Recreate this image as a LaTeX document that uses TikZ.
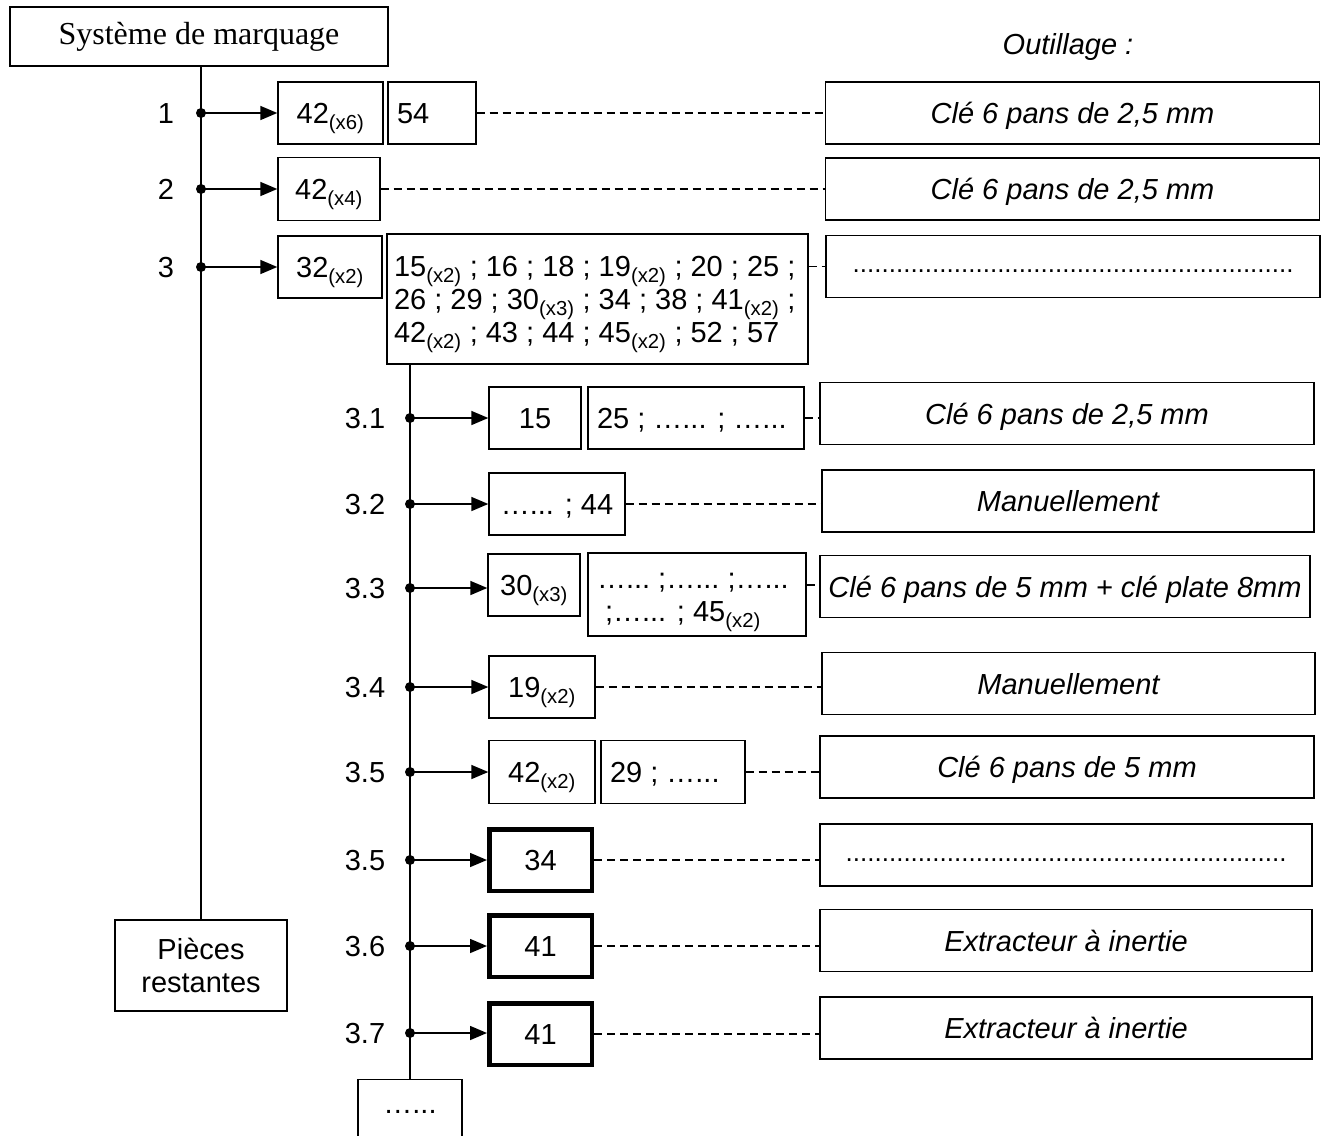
\documentclass[tikz,border=0pt]{standalone}
\usepackage{fontspec}
\setmainfont{Liberation Sans}
\newfontfamily\timesfont{Liberation Serif}
\usetikzlibrary{arrows.meta}
\newcommand{\fois}[1]{\textsubscript{(x#1)}}
\newcommand{\pts}{…...}

\begin{document}
\begin{tikzpicture}[x=1pt, y=-1pt,
    cadre/.style={draw, line width=1.4pt, inner sep=0pt, font=\fontsize{29}{33}\selectfont},
    boite/.style={cadre, minimum height=62pt, text height=21pt, text depth=0pt},
    liste/.style={boite, inner xsep=9pt, align=flush left},
    grosse/.style={boite, line width=4.5pt, minimum width=102.5pt, minimum height=61.5pt},
    outil/.style={boite, minimum width=494pt, font=\fontsize{29}{33}\selectfont\itshape},
    vide/.style={outil, text height=12pt, font=\fontsize{26}{30}\selectfont},
    repere/.style={inner sep=0pt, font=\fontsize{29}{33}\selectfont, text height=21pt, text depth=0pt},
    tronc/.style={line width=2.4pt},
    fleche/.style={line width=1.6pt, -{Triangle[length=17pt, width=14pt]}},
    tirets/.style={line width=1.3pt, dash pattern=on 8pt off 5pt}]
    \useasboundingbox (0,0) rectangle (1327,1135);
    \fill[white] (0,0) rectangle (1327,1135);

    \node[cadre, minimum width=378pt, minimum height=59pt, font=\timesfont\fontsize{32}{36}\selectfont] (marquage) at (199,36.5) {Système de marquage};
    \node[repere, font=\fontsize{29}{33}\selectfont\itshape] (outillage) at (1068,44) {Outillage :};
    \node[cadre, align=center, minimum width=172pt, minimum height=91pt] (restantes) at (201,965.5) {Pièces\\restantes};

    \node[boite, minimum width=105pt] (m1a) at (330.5,113) {42\fois{6}};
    \node[liste, text width=70pt] (m1b) at (432,113) {54};
    \node[outil] (o1) at (1072.5,113) {Clé 6 pans de 2,5 mm};
    \node[boite, minimum width=102pt, minimum height=63pt] (m2) at (329,189) {42\fois{4}};
    \node[outil] (o2) at (1072.5,189) {Clé 6 pans de 2,5 mm};
    \node[boite, minimum width=104pt] (m3a) at (330,267) {32\fois{2}};
    \node[cadre, text width=407pt, inner xsep=7pt, align=flush left, minimum height=130pt, text height=21pt, text depth=66pt] (grande) at (597.5,299)
        {15\fois{2} ; 16 ; 18 ; 19\fois{2} ; 20 ; 25 ;\\26 ; 29 ; 30\fois{3} ; 34 ; 38 ; 41\fois{2} ;\\42\fois{2} ; 43 ; 44 ; 45\fois{2} ; 52 ; 57};
    \node[vide] (o3) at (1073,266.5) {.............................................................};

    \node[boite, minimum width=92pt] (s1a) at (535,418) {15};
    \node[liste, text width=198pt] (s1b) at (696,418) {25 ; \pts{} ; \pts};
    \node[outil] (o31) at (1067,413.5) {Clé 6 pans de 2,5 mm};
    \node[boite, minimum width=136pt] (s2) at (557,504) {\pts{} ; 44};
    \node[outil, minimum width=492pt] (o32) at (1068,501) {Manuellement};
    \node[boite, minimum width=92pt] (s3a) at (534,585) {30\fois{3}};
    \node[cadre, text width=200pt, inner xsep=9pt, align=flush left, minimum height=83pt, text height=21pt, text depth=34pt] (s3b) at (697,594.5)
        {\pts{}~;\pts{}~;\pts\\\hspace*{8pt};\pts{} ; 45\fois{2}};
    \node[outil, minimum width=490pt] (o33) at (1065,586.5) {Clé 6 pans de 5 mm + clé plate 8mm};
    \node[boite, minimum width=106pt] (s4) at (542,687) {19\fois{2}};
    \node[outil, minimum width=493pt] (o34) at (1068.5,683.5) {Manuellement};
    \node[boite, minimum width=106pt, minimum height=63pt] (s5a) at (542,772) {42\fois{2}};
    \node[liste, text width=126pt, minimum height=63pt] (s5b) at (673,772) {29 ; \pts};
    \node[outil] (o35) at (1067,767) {Clé 6 pans de 5 mm};
    \node[grosse] (s6) at (540.5,860) {34};
    \node[vide, minimum width=492pt] (o36) at (1066,855) {.............................................................};
    \node[grosse] (s7) at (540.5,946) {41};
    \node[outil, minimum width=492pt] (o37) at (1066,940.5) {Extracteur à inertie};
    \node[grosse] (s8) at (540.5,1034) {41};
    \node[outil, minimum width=492pt] (o38) at (1066,1028) {Extracteur à inertie};
    \node[cadre, minimum width=104pt, minimum height=68pt, text height=0pt, text depth=0pt, anchor=north] (suite) at (410,1079) {\pts};

    \draw[tronc] (restantes.north |- marquage.south) -- (restantes.north);
    \draw[tronc] (suite.north |- grande.south) -- (suite.north);

    \foreach \lab/\y/\cible [count=\i] in {1/113/m1a, 2/189/m2, 3/267/m3a} {
        \node[repere] (n\i) at (166,\y) {\lab};
        \coordinate (j\i) at (201,\y);
        \fill (j\i) circle (5);
        \draw[fleche] (j\i) -- (j\i -| \cible.west);
    }
    \foreach \lab/\y/\cible [count=\i] in {3.1/418/s1a, 3.2/504/s2, 3.3/588/s3a, 3.4/687/s4, 3.5/772/s5a, 3.5/860/s6, 3.6/946/s7, 3.7/1033/s8} {
        \node[repere] (r\i) at (365,\y) {\lab};
        \coordinate (k\i) at (410,\y);
        \fill (k\i) circle (5);
        \draw[fleche] (k\i) -- (k\i -| \cible.west);
    }

    \foreach \de/\vers in {m1b/o1, m2/o2, s1b/o31, s2/o32, s4/o34, s5b/o35, s6/o36, s7/o37, s8/o38}
        \draw[tirets] (\de.east) -- (\de.east -| \vers.west);
    \draw[tirets] (grande.east |- o3.west) -- (o3.west);
    \draw[tirets] (s3b.east |- s3a.east) -- (s3a.east -| o33.west);
\end{tikzpicture}
\end{document}
